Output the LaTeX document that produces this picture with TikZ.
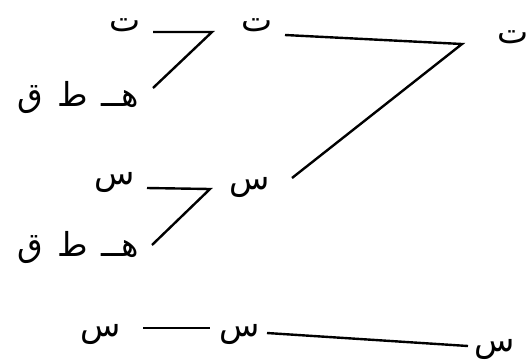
\documentclass[tikz,border=0pt]{standalone}
\usepackage{fontspec}
\newfontfamily\arabicfont[Script=Arabic]{DejaVu Sans}
\TeXXeTstate=1
\begin{document}
\begin{tikzpicture}[x=1pt,y=-1pt,
  lbl/.style={inner sep=0pt,font=\arabicfont\fontsize{33}{36}\selectfont},
  conn/.style={line width=2.4pt}]
\useasboundingbox (0,0) rectangle (529,360);
% top group
\node[lbl] (t1) at (125,25) {\beginR ت\endR};
\node[lbl] (q1) at (78,98) {\beginR هــ\hspace{14pt}ط\hspace{14pt}ق\endR};
\node[lbl] (t2) at (257,25) {\beginR ت\endR};
\node[lbl] (t3) at (513,37) {\beginR ت\endR};
\coordinate (j1) at (212,32);
\coordinate (j2) at (462,44);
\draw[conn] (153,32) coordinate (a1) -- (j1) -- (153,88) coordinate (b1);
\draw[conn] (285,35) coordinate (a2) -- (j2) -- (292,178) coordinate (b2);
% middle group
\node[lbl] (s1) at (115,182) {\beginR س\endR};
\node[lbl] (q2) at (78,248) {\beginR هــ\hspace{14pt}ط\hspace{14pt}ق\endR};
\node[lbl] (s2) at (250,187) {\beginR س\endR};
\coordinate (j3) at (210,189);
\draw[conn] (147,188) coordinate (a3) -- (j3) -- (152,245) coordinate (b3);
% bottom
\node[lbl] (s3) at (101,334) {\beginR س\endR};
\node[lbl] (s4) at (240,334) {\beginR س\endR};
\node[lbl] (s5) at (495,349) {\beginR س\endR};
\draw[conn] (143,328) coordinate (a4) -- (210,328) coordinate (b4);
\draw[conn] (267,333) coordinate (a5) -- (468,346) coordinate (b5);
\end{tikzpicture}
\end{document}
